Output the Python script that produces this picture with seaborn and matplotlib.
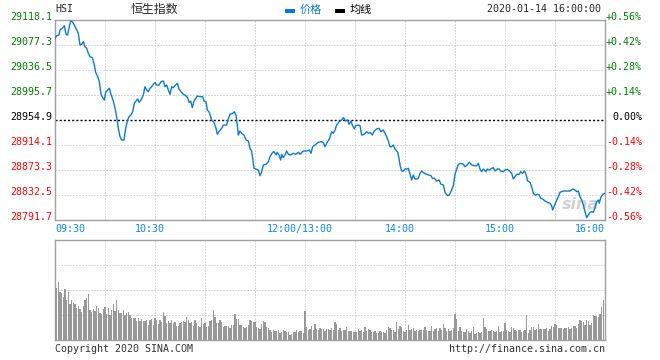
import numpy as np
import pandas as pd
import matplotlib
matplotlib.use("Agg")
import matplotlib.pyplot as plt
import matplotlib.transforms as mtransforms
from matplotlib.lines import Line2D
import seaborn as sns

# HSI intraday, 2020-01-14 (minutes since 09:30, lunch break removed)
prev_close = 28954.9
y_ticks = [28791.7, 28832.5, 28873.3, 28914.1, 28954.9, 28995.7, 29036.5, 29077.3, 29118.1]
time_ticks = [0, 60, 150, 210, 270, 330]
time_labels = ["09:30", "10:30", "12:00/13:00", "14:00", "15:00", "16:00"]

minute = [
    0, 1.0, 2.4, 3.0, 4.4, 5.6, 6.6, 7.6, 8.4, 9.4, 10.4, 11.6, 13.0, 14.0, 15.0, 16.0,
    17.0, 18.0, 19.0, 20.0, 21.0, 22.4, 23.6, 24.4, 25.6, 26.6, 27.6, 28.6, 29.6, 30.4,
    31.6, 32.6, 33.6, 35.0, 36.0, 37.0, 38.0, 39.0, 40.0, 41.4, 42.4, 43.6, 44.4, 45.6,
    46.6, 47.6, 48.6, 49.6, 50.6, 51.6, 53.0, 54.0, 55.0, 56.0, 57.0, 58.0, 59.0, 60.0,
    61.0, 62.4, 63.6, 65.0, 66.0, 67.0, 68.0, 69.0, 70.0, 71.0, 72.0, 73.4, 74.4, 75.6,
    77.0, 78.4, 79.6, 80.4, 81.4, 82.4, 83.4, 85.4, 87.0, 88.6, 89.4, 90.6, 91.4, 92.6,
    94.0, 95.4, 96.6, 97.4, 98.6, 100.0, 101.0, 103.0, 104.0, 105.0, 106.6, 107.6, 108.6,
    109.4, 110.0, 111.0, 112.0, 113.4, 114.6, 116.0, 117.0, 118.0, 118.6, 119.4, 120.6,
    122.0, 123.0, 124.0, 125.0, 126.6, 128.0, 129.0, 130.6, 131.4, 132.6, 133.4, 134.6,
    135.4, 136.0, 137.0, 138.0, 139.0, 140.0, 141.4, 143.0, 144.6, 146.0, 147.0, 149.0,
    151.0, 152.6, 153.6, 154.6, 156.0, 158.0, 160.0, 161.0, 162.0, 163.0, 163.6, 164.6,
    165.0, 166.0, 167.0, 168.0, 169.0, 170.4, 172.0, 173.0, 174.4, 175.6, 176.4, 177.6,
    178.4, 179.6, 180.4, 182.0, 183.0, 184.0, 185.6, 187.0, 188.0, 189.0, 190.4, 191.6,
    193.0, 194.4, 195.6, 197.0, 198.0, 199.0, 200.0, 201.0, 202.0, 203.0, 204.0, 205.6,
    206.4, 207.0, 208.0, 209.0, 210.0, 211.0, 212.0, 213.0, 214.0, 215.0, 216.0, 217.0,
    218.0, 219.0, 220.0, 221.6, 223.0, 224.4, 225.6, 226.4, 227.6, 229.0, 230.4, 231.6,
    233.0, 234.0, 235.6, 236.6, 238.0, 239.0, 240.0, 241.0, 242.0, 243.6, 245.0, 246.0,
    247.4, 248.6, 250.0, 251.4, 253.0, 254.0, 255.0, 256.0, 257.0, 258.6, 259.4, 260.6,
    262.0, 263.0, 264.0, 265.4, 266.6, 267.4, 269.0, 270.0, 271.4, 272.6, 274.0, 275.0,
    276.0, 277.0, 278.6, 279.4, 280.6, 281.6, 282.6, 283.6, 285.0, 286.0, 287.0, 288.0,
    289.4, 290.6, 291.4, 292.6, 294.0, 295.4, 297.0, 298.0, 298.6, 299.4, 300.6, 302.0,
    303.0, 304.0, 305.4, 307.0, 309.0, 310.6, 312.0, 313.0, 314.0, 315.0, 316.0, 317.0,
    318.0, 319.0, 320.0, 321.0, 322.0, 323.0, 324.0, 325.0, 326.0, 326.6, 327.4, 328.6,
    330.0,
]
price = [
    29088.2, 29092.5, 29093.6, 29101.8, 29104.6, 29108.8, 29094.8, 29093.6, 29104.6, 29116.5,
    29115.3, 29109.9, 29101.8, 29096.4, 29077.3, 29078.4, 29082.7, 29074.5, 29071.9, 29063.8,
    29058.2, 29056.6, 29044.7, 29032.7, 29025.6, 29017.4, 28996.8, 28991.3, 28987.5, 29000.1,
    29003.9, 29006.6, 28996.8, 28985.9, 28974.0, 28960.3, 28941.4, 28927.6, 28922.3, 28922.3,
    28941.4, 28954.9, 28960.3, 28963.1, 28968.4, 28982.2, 28985.9, 28989.2, 28983.8, 28987.5,
    28995.7, 29009.2, 29003.9, 29001.1, 29006.6, 29009.2, 29013.2, 29015.8, 29012.0, 29012.0,
    29017.4, 29018.5, 29009.2, 29012.0, 29003.9, 28996.8, 29009.2, 29007.6, 29010.9, 29014.8,
    29005.5, 29001.1, 28996.8, 28994.6, 28991.3, 28983.8, 28985.9, 28975.0, 28985.9, 28994.1,
    28992.9, 28992.9, 28985.9, 28984.8, 28971.2, 28967.5, 28954.9, 28951.1, 28941.4, 28931.6,
    28936.9, 28941.4, 28946.7, 28946.7, 28956.5, 28964.2, 28965.8, 28968.4, 28963.1, 28946.7,
    28930.4, 28936.9, 28933.2, 28930.4, 28922.3, 28920.6, 28908.7, 28904.3, 28892.4, 28876.1,
    28874.9, 28873.3, 28864.0, 28870.5, 28881.5, 28882.6, 28886.8, 28895.0, 28902.2, 28903.2,
    28897.8, 28902.2, 28896.6, 28889.6, 28898.9, 28893.4, 28897.8, 28904.3, 28898.9, 28897.8,
    28900.6, 28898.9, 28902.2, 28898.9, 28904.3, 28904.3, 28905.9, 28900.6, 28911.3, 28914.1,
    28918.5, 28919.5, 28917.9, 28911.3, 28916.9, 28919.5, 28923.9, 28927.6, 28935.8, 28933.2,
    28938.6, 28946.7, 28952.1, 28954.9, 28958.7, 28953.3, 28954.9, 28947.9, 28953.3, 28946.7,
    28940.2, 28945.6, 28946.7, 28945.6, 28930.4, 28931.6, 28935.8, 28933.2, 28934.8, 28930.4,
    28936.9, 28940.2, 28941.4, 28935.8, 28938.6, 28933.2, 28927.6, 28920.6, 28911.3, 28911.3,
    28914.1, 28907.6, 28902.2, 28892.4, 28881.5, 28871.7, 28871.7, 28874.9, 28874.9, 28876.1,
    28866.3, 28857.0, 28865.1, 28858.6, 28858.6, 28859.8, 28867.9, 28871.7, 28867.9, 28866.3,
    28865.1, 28864.0, 28859.8, 28859.8, 28855.3, 28857.0, 28850.0, 28848.8, 28836.9, 28831.4,
    28832.5, 28840.7, 28847.7, 28866.3, 28874.9, 28882.6, 28884.2, 28882.6, 28878.7, 28881.5,
    28885.9, 28881.5, 28880.3, 28880.3, 28884.2, 28874.9, 28870.5, 28874.9, 28870.5, 28874.9,
    28873.3, 28876.1, 28877.1, 28871.7, 28874.9, 28874.9, 28871.7, 28870.5, 28873.3, 28874.4,
    28871.7, 28867.9, 28858.6, 28862.4, 28866.3, 28866.3, 28870.5, 28867.9, 28871.7, 28866.3,
    28855.3, 28853.2, 28846.0, 28835.3, 28832.5, 28833.6, 28832.5, 28827.1, 28826.0, 28822.7,
    28820.6, 28819.0, 28815.0, 28808.0, 28813.4, 28821.6, 28829.7, 28836.9, 28837.9, 28839.0,
    28839.0, 28839.0, 28842.3, 28840.7, 28837.9, 28839.0, 28829.7, 28824.3, 28816.2, 28805.2,
    28795.5, 28799.9, 28804.3, 28805.2, 28804.3, 28811.8, 28821.6, 28824.3, 28819.0, 28828.1,
    28833.6, 28835.3,
]

# per-minute volume, relative units (panel top = 100)
volume = [
    54, 52, 58, 48, 47, 43, 51, 40, 48, 36, 40, 37, 36, 32, 34, 31, 28, 34, 40, 42,
    46, 30, 28, 31, 29, 34, 32, 27, 26, 31, 33, 26, 32, 25, 30, 36, 29, 40, 30, 27,
    27, 30, 25, 27, 28, 25, 22, 22, 22, 19, 22, 19, 21, 19, 19, 20, 15, 20, 21, 15,
    22, 20, 16, 20, 18, 28, 24, 17, 19, 17, 20, 17, 18, 14, 14, 17, 18, 19, 18, 23,
    20, 17, 18, 14, 20, 17, 14, 13, 22, 16, 17, 13, 14, 19, 20, 30, 23, 17, 17, 20,
    18, 13, 14, 14, 14, 12, 15, 15, 26, 21, 21, 15, 15, 13, 12, 13, 15, 20, 19, 18,
    18, 13, 12, 11, 16, 19, 18, 13, 12, 10, 8, 10, 9, 9, 10, 7, 8, 10, 9, 8,
    8, 5, 6, 8, 8, 10, 8, 9, 9, 7, 29, 13, 10, 11, 14, 10, 16, 11, 10, 12,
    11, 11, 9, 11, 11,
    10, 12, 10, 18, 16, 10, 12, 9, 10, 10, 13, 9, 9, 9, 8, 8, 8, 11, 9, 10,
    8, 13, 9, 11, 10, 8, 8, 9, 7, 7, 9, 8, 8, 7, 10, 13, 12, 10, 10, 8,
    18, 11, 14, 13, 9, 8, 10, 15, 10, 11, 12, 9, 10, 9, 10, 10, 10, 13, 10, 9,
    9, 14, 9, 11, 12, 9, 12, 10, 16, 12, 9, 11, 9, 10, 12, 26, 21, 9, 13, 9,
    8, 8, 11, 9, 7, 9, 13, 6, 7, 8, 7, 8, 22, 13, 11, 9, 9, 10, 9, 8,
    9, 14, 8, 9, 9, 17, 10, 9, 8, 13, 12, 10, 9, 10, 10, 8, 9, 10, 25, 7,
    10, 13, 13, 10, 11, 16, 11, 11, 11, 11, 12, 9, 11, 14, 13, 16, 15, 12, 12, 12,
    11, 12, 12, 13, 11, 12, 14, 14, 12, 16, 20, 19, 18, 15, 20, 19, 15, 17, 25, 24,
    24, 23, 26, 33, 40,
]

LINE = "#0a7cd1"
TIME = "#0a88e8"
GREEN = "#008000"
RED = "#ff0000"
GRID = "#b4b4b4"
FRAME = "#a0a0a0"
BAR = "#999999"
MONO = "DejaVu Sans Mono"
CJK = ["Noto Sans CJK SC", "DejaVu Sans"]

sns.set_style("white")
plt.rcParams["font.family"] = [MONO, "Noto Sans CJK SC"]

W, H = 660, 360
fig = plt.figure(figsize=(W / 100, H / 100), dpi=100)
ax = fig.add_axes([55 / W, 1 - 220 / H, 550 / W, 200 / H])
axv = fig.add_axes([55 / W, 1 - 340 / H, 550 / W, 100 / H])


def px(dx, dy):
    return mtransforms.ScaledTranslation(dx / 100, dy / 100, fig.dpi_scale_trans)


def tick_color(v):
    if abs(v - prev_close) < 1e-6:
        return "black"
    return GREEN if v > prev_close else RED


# ---- price panel
df = pd.DataFrame({"minute": minute, "price": price})
sns.lineplot(data=df, x="minute", y="price", ax=ax, color=LINE, lw=1.0,
             sort=False, estimator=None, zorder=4)
ax.set_xlim(0, 330)
ax.set_ylim(y_ticks[0], y_ticks[-1])

for t in range(30, 330, 30):
    ax.axvline(t, color=GRID, lw=0.72, ls=(0, (1, 2)), zorder=1)
for v in y_ticks[1:-1]:
    if abs(v - prev_close) > 1e-6:
        ax.axhline(v, color=GRID, lw=0.72, ls=(0, (1, 2)), zorder=1)
ax.axhline(prev_close, color="black", lw=1.0, ls=(0, (1.5, 1.5)), zorder=2)

ax.set_xticks([])
ax.set_yticks(y_ticks)
ax.set_yticklabels([f"{v:.1f}" for v in y_ticks])
ax.tick_params(axis="y", length=0, pad=2.2, labelsize=7.2)
for lab, v in zip(ax.get_yticklabels(), y_ticks):
    lab.set_color(tick_color(v))
    lab.set_verticalalignment("baseline")
ax.set_xlabel("")
ax.set_ylabel("")

ytrans = ax.get_yaxis_transform()
for v in y_ticks:
    pct = (v - prev_close) / prev_close * 100
    txt = "0.00%" if abs(pct) < 1e-9 else f"{pct:+.2f}%"
    ax.text(1 + 37 / 550, v, txt, transform=ytrans, ha="right", va="baseline",
            fontsize=7.2, color=tick_color(v), family=MONO)

xtrans = ax.get_xaxis_transform()
for t, lab in zip(time_ticks, time_labels):
    if t == time_ticks[0]:
        ha, dx = "left", 0
    elif t == time_ticks[-1]:
        ha, dx = "right", 0
    else:
        ha, dx = "center", -5
    ax.text(t, 0, lab, transform=xtrans + px(dx, -4), ha=ha, va="top",
            fontsize=7.2, color=TIME, family=MONO)

# faint watermark
ax.text(0.955, 0.08, "sina", transform=ax.transAxes, ha="center", va="center",
        fontsize=11.5, fontstyle="italic", fontweight="bold", color="#d2d2d2",
        family="DejaVu Sans", zorder=0)

# ---- volume panel
vdf = pd.DataFrame({"minute": np.arange(len(volume)), "volume": volume})
sns.barplot(data=vdf, x="minute", y="volume", ax=axv, native_scale=True,
            color=BAR, saturation=1, width=0.78, errorbar=None, linewidth=0, zorder=3)
axv.set_xlim(0, 330)
axv.set_ylim(0, 100)
for t in range(30, 330, 30):
    axv.axvline(t, color=GRID, lw=0.72, ls=(0, (1, 2)), zorder=1)
for v in (25, 50, 75):
    axv.axhline(v, color=GRID, lw=0.72, ls=(0, (1, 2)), zorder=1)
axv.set_xticks([])
axv.set_yticks([])
axv.set_xlabel("")
axv.set_ylabel("")

for a in (ax, axv):
    for s in a.spines.values():
        s.set_visible(True)
        s.set_color(FRAME)
        s.set_linewidth(1.0)

# ---- header and footer (figure pixel positions)
def fx(x):
    return x / W


def fy(y):
    return 1 - y / H


fig.text(fx(55), fy(9), "HSI", ha="left", va="center", fontsize=7.2, family=MONO)
fig.text(fx(154), fy(9.5), "恒生指数", ha="center", va="center", fontsize=8.6, family=CJK)
fig.add_artist(Line2D([fx(285), fx(295)], [fy(11.3), fy(11.3)], color=LINE, lw=2.9,
                      solid_capstyle="butt"))
fig.text(fx(300), fy(9.5), "价格", ha="left", va="center", fontsize=8, color=LINE, family=CJK)
fig.add_artist(Line2D([fx(335), fx(345)], [fy(11.3), fy(11.3)], color="black", lw=2.9,
                      solid_capstyle="butt"))
fig.text(fx(350), fy(9.5), "均线", ha="left", va="center", fontsize=8, color="black", family=CJK)
fig.text(fx(601), fy(9.5), "2020-01-14 16:00:00", ha="right", va="center",
         fontsize=7.2, family=MONO)

fig.text(fx(55), fy(352), "Copyright 2020 SINA.COM", ha="left", va="baseline",
         fontsize=7.2, color="#333333", family=MONO)
fig.text(fx(605), fy(352), "http://finance.sina.com.cn", ha="right", va="baseline",
         fontsize=7.2, color="#333333", family=MONO)

fig.savefig("out.png", dpi=100)
